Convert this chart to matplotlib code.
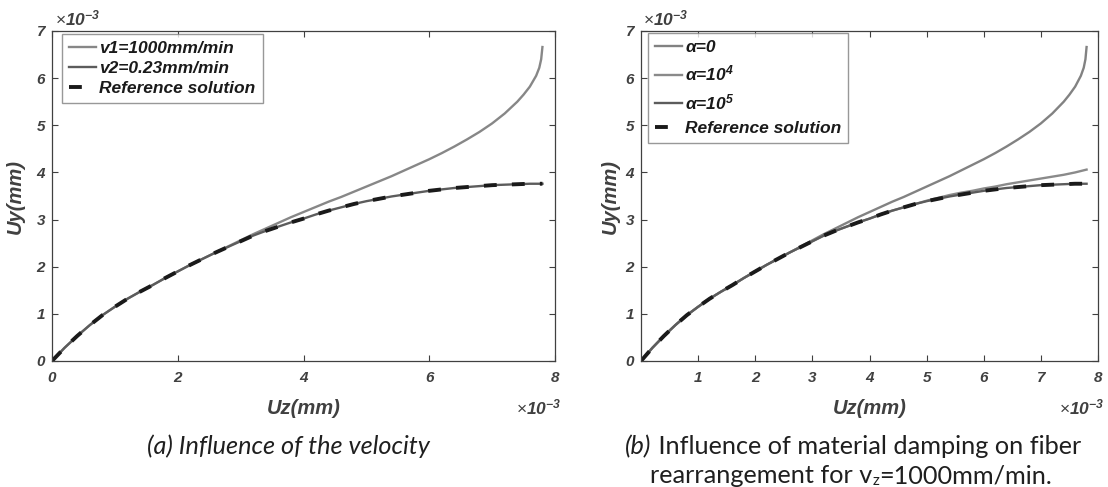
import numpy as np
import matplotlib
matplotlib.use('Agg')
import matplotlib.pyplot as plt
import matplotlib.ticker as ticker

# data (both axes in units of 1e-3 mm)
uz_ref = [0, 0.2, 0.4, 0.6, 0.8, 1.0, 1.2, 1.4, 1.6, 1.8, 2.0, 2.2, 2.4, 2.6, 2.8,
          3.0, 3.2, 3.4, 3.6, 3.8, 4.0, 4.2, 4.4, 4.6, 4.8, 5.0, 5.2, 5.4, 5.6, 5.8,
          6.0, 6.2, 6.4, 6.6, 6.8, 7.0, 7.2, 7.4, 7.6, 7.8]
uy_ref = [0, 0.28, 0.53, 0.76, 0.97, 1.15, 1.32, 1.47, 1.61, 1.76, 1.90, 2.04, 2.17, 2.30, 2.42,
          2.54, 2.66, 2.76, 2.85, 2.94, 3.02, 3.11, 3.19, 3.26, 3.33, 3.39, 3.44, 3.49, 3.53, 3.57,
          3.61, 3.64, 3.67, 3.69, 3.71, 3.73, 3.74, 3.75, 3.76, 3.76]

# v1 = 1000 mm/min (same curve as alpha = 0)
uz_v1 = [0, 0.2, 0.4, 0.6, 0.8, 1.0, 1.2, 1.4, 1.6, 1.8, 2.0, 2.2, 2.4, 2.6, 2.8,
         3.0, 3.2, 3.4, 3.6, 3.8, 4.0, 4.2, 4.4, 4.6, 4.8, 5.0, 5.2, 5.4, 5.6, 5.8,
         6.0, 6.2, 6.4, 6.6, 6.8, 7.0, 7.2, 7.4, 7.5, 7.6, 7.7, 7.75, 7.78, 7.8]
uy_v1 = [0, 0.28, 0.53, 0.76, 0.97, 1.15, 1.32, 1.47, 1.61, 1.76, 1.90, 2.04, 2.17, 2.30, 2.43,
         2.56, 2.69, 2.81, 2.93, 3.05, 3.16, 3.27, 3.38, 3.48, 3.59, 3.70, 3.81, 3.92, 4.04, 4.16,
         4.28, 4.41, 4.55, 4.70, 4.86, 5.04, 5.25, 5.50, 5.65, 5.82, 6.05, 6.22, 6.40, 6.66]

# v2 = 0.23 mm/min and alpha = 1e5 lie on the reference solution
uz_v2 = uz_ref
uy_v2 = uy_ref
uz_a5 = uz_ref
uy_a5 = uy_ref
uz_a0 = uz_v1
uy_a0 = uy_v1

uz_a4 = [0, 0.2, 0.4, 0.6, 0.8, 1.0, 1.2, 1.4, 1.6, 1.8, 2.0, 2.2, 2.4, 2.6, 2.8,
         3.0, 3.2, 3.4, 3.6, 3.8, 4.0, 4.2, 4.4, 4.6, 4.8, 5.0, 5.2, 5.4, 5.6, 5.8,
         6.0, 6.2, 6.4, 6.6, 6.8, 7.0, 7.2, 7.4, 7.6, 7.8]
uy_a4 = [0, 0.28, 0.53, 0.76, 0.97, 1.15, 1.32, 1.47, 1.61, 1.76, 1.90, 2.04, 2.17, 2.30, 2.42,
         2.54, 2.66, 2.76, 2.85, 2.94, 3.02, 3.11, 3.19, 3.26, 3.33, 3.40, 3.46, 3.52, 3.57, 3.61,
         3.66, 3.70, 3.75, 3.79, 3.83, 3.87, 3.91, 3.95, 4.00, 4.06]

labels_a = ['v1=1000mm/min', 'v2=0.23mm/min', 'Reference solution']
labels_b = ['α=0', 'α=10$^{4}$', 'α=10$^{5}$', 'Reference solution']
xticks_a = [0, 2, 4, 6, 8]
xticks_b = [1, 2, 3, 4, 5, 6, 7, 8]
yticks = [0, 1, 2, 3, 4, 5, 6, 7]

# global look
g_axcolor = '#404040'
g_tickfont = 11
g_labelfont = 14.5
g_legendfont = 12.5
g_capfont = 18.2
g_refdash = (3.3, 3.9)

plt.rcParams['font.family'] = ['Liberation Sans', 'DejaVu Sans']
plt.rcParams['mathtext.fontset'] = 'custom'
plt.rcParams['mathtext.rm'] = 'Liberation Sans:bold:italic'
plt.rcParams['mathtext.it'] = 'Liberation Sans:bold:italic'
plt.rcParams['mathtext.bf'] = 'Liberation Sans:bold:italic'
plt.rcParams['mathtext.sf'] = 'Liberation Sans'


def setupAx(ax, xticks):
    ax.set_xlim(0, 8)
    ax.set_ylim(0, 7)
    ax.set_xticks(xticks)
    ax.set_yticks(yticks)
    for sp in ax.spines.values():
        sp.set_color(g_axcolor)
        sp.set_linewidth(0.9)
    ax.tick_params(direction='in', length=4, width=0.8, color=g_axcolor,
                   top=True, right=True, labelcolor=g_axcolor, labelsize=g_tickfont)
    ax.tick_params(axis='x', pad=7)
    ax.tick_params(axis='y', pad=5)
    for lab in ax.get_xticklabels() + ax.get_yticklabels():
        lab.set_fontweight('bold')
        lab.set_fontstyle('italic')
    ax.set_xlabel('Uz(mm)', fontsize=g_labelfont, fontweight='bold', style='italic',
                  color=g_axcolor)
    ax.set_ylabel('Uy(mm)', fontsize=g_labelfont, fontweight='bold', style='italic',
                  color=g_axcolor)
    ax.xaxis.set_label_coords(0.5, -0.116)
    # multipliers, like matlab
    mult = r'$\mathsf{\times}$10$^{-3}$'
    ax.text(0.005, 1.018, mult, transform=ax.transAxes, ha='left', va='baseline',
            fontsize=12.5, fontweight='bold', style='italic', color=g_axcolor)
    ax.text(1.013, -0.163, mult, transform=ax.transAxes, ha='right', va='baseline',
            fontsize=12.5, fontweight='bold', style='italic', color=g_axcolor)
    return ax


def styleLegend(ax, anchor, spacing):
    leg = ax.legend(loc='upper left', bbox_to_anchor=anchor, borderaxespad=0,
                    fancybox=False, handlelength=1.55, handletextpad=0.2,
                    labelspacing=spacing, borderpad=0.4,
                    prop={'size': g_legendfont, 'weight': 'bold', 'style': 'italic'})
    leg.get_frame().set_edgecolor('#7f7f7f')
    leg.get_frame().set_linewidth(1.0)
    for t in leg.get_texts():
        t.set_color('#1a1a1a')
    return leg


def putPieces(fig, xc, y, pieces):
    # lay out text pieces on one baseline, centred on xc (figure pixels)
    r = fig.canvas.get_renderer()
    objs = []
    for s, kw, dy in pieces:
        objs.append((fig.text(0, 0, s, va='baseline', transform=None, color='#1f1f1f', **kw), dy))
    widths = [o.get_window_extent(r).width for o, dy in objs]
    x = xc - sum(widths) / 2.0
    for (o, dy), w in zip(objs, widths):
        o.set_position((x, y + dy))
        x += w


fig = plt.figure(figsize=(11.08, 4.87), dpi=100)
ax1 = fig.add_axes([52 / 1108, 126 / 487, 503 / 1108, 330 / 487])
ax2 = fig.add_axes([641 / 1108, 126 / 487, 457 / 1108, 330 / 487])

# panel (a)
ax1.plot(uz_v1, uy_v1, color='#878787', lw=1.7, label=labels_a[0])
ax1.plot(uz_v2, uy_v2, color='#5c5c5c', lw=1.7, label=labels_a[1])
ax1.plot(uz_ref, uy_ref, color='#1a1a1a', lw=2.8, dashes=g_refdash, label=labels_a[2])
setupAx(ax1, xticks_a)
ax1.yaxis.set_label_coords(-0.054, 0.5)
styleLegend(ax1, (0.02, 0.992), 0.28)

# panel (b)
ax2.plot(uz_a0, uy_a0, color='#828282', lw=1.7, label=labels_b[0])
ax2.plot(uz_a4, uy_a4, color='#8a8a8a', lw=1.7, label=labels_b[1])
ax2.plot(uz_a5, uy_a5, color='#5c5c5c', lw=1.7, label=labels_b[2])
ax2.plot(uz_ref, uy_ref, color='#1a1a1a', lw=2.8, dashes=g_refdash, label=labels_b[3])
setupAx(ax2, xticks_b)
ax2.yaxis.set_label_coords(-0.046, 0.5)
styleLegend(ax2, (0.015, 0.994), 0.5)

# captions (pixel coordinates, origin bottom left)
cap = {'family': ['Lato', 'DejaVu Sans'], 'fontsize': g_capfont}
putPieces(fig, 288, 487 - 454, [('(a) Influence of the velocity', dict(cap, style='italic'), 0)])
putPieces(fig, 853, 487 - 454, [('(b)', dict(cap, style='italic'), 0),
                                (' Influence of material damping on fiber', cap, 0)])
putPieces(fig, 851, 487 - 483, [('rearrangement for v', cap, 0),
                                ('z', dict(cap, fontsize=g_capfont * 0.6), -2),
                                ('=1000mm/min.', cap, 0)])

fig.savefig('out.png', dpi=100)
